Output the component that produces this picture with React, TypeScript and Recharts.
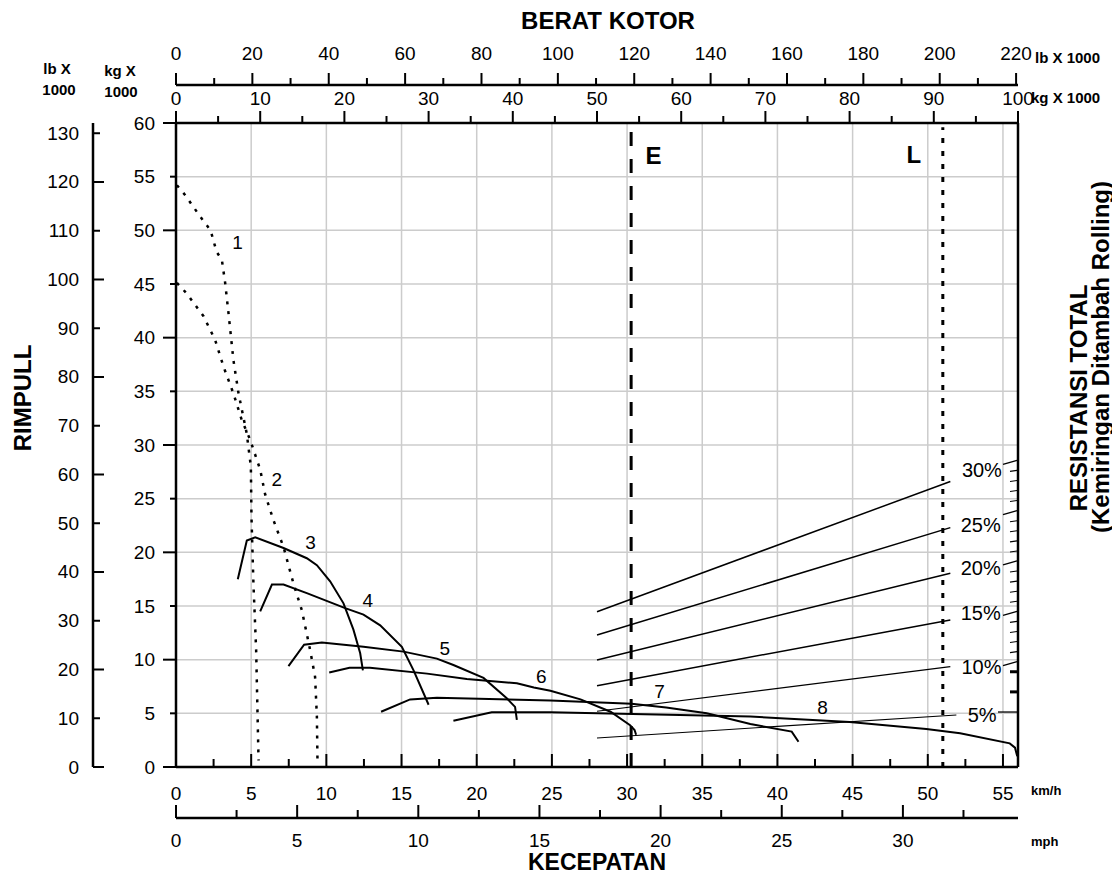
import React from 'react';
import { ComposedChart, Line, Scatter, XAxis, YAxis, CartesianGrid, ReferenceLine } from 'recharts';

const FONT = "'Liberation Sans', Arial, Helvetica, sans-serif";

// rimpull curves: [kecepatan km/h, rimpull kg x 1000]
const gear1 = [[0.06, 54.2], [0.6, 53.3], [1.6, 51.3], [2.3, 50.0], [2.7, 48.0], [3.05, 47.25], [3.27, 45.1], [3.49, 42.3], [3.82, 37.9], [4.16, 34.8], [4.7, 31.1], [4.98, 28.0], [5.02, 23.3], [5.15, 17.1], [5.33, 10.9], [5.49, 0.6]];
const gear2 = [[0.06, 45.1], [0.72, 44.1], [1.83, 42.0], [2.6, 39.8], [3.16, 37.3], [3.82, 34.8], [4.38, 32.3], [4.93, 30.5], [5.6, 27.7], [5.93, 25.4], [6.48, 23.0], [7.15, 20.5], [7.81, 17.1], [8.37, 14.6], [8.92, 10.9], [9.25, 8.4], [9.37, 4.7], [9.41, 0.6]];
const gear3 = [[4.11, 17.5], [4.71, 21.1], [5.27, 21.4], [7.15, 20.4], [8.7, 19.45], [9.37, 18.8], [10.25, 17.3], [11.14, 15.25], [11.8, 12.8], [12.25, 10.6], [12.43, 9.0]];
const gear4 = [[5.6, 14.5], [6.38, 17.0], [7.15, 17.0], [8.7, 16.2], [11.25, 14.8], [12.47, 14.2], [13.58, 13.2], [15.02, 11.2], [15.8, 9.0], [16.8, 5.8]];
const gear5 = [[7.48, 9.4], [8.52, 11.4], [9.7, 11.6], [12.47, 11.2], [15.13, 10.75], [17.35, 10.1], [18.45, 9.5], [20.45, 8.3], [22.0, 6.4], [22.55, 5.6], [22.67, 4.4]];
const gear6 = [[10.19, 8.8], [11.54, 9.25], [12.9, 9.25], [16.7, 8.7], [19.34, 8.2], [22.67, 7.8], [23.8, 7.4], [24.9, 7.1], [26.9, 6.3], [28.9, 5.15], [30.2, 3.9], [30.5, 3.45], [30.6, 3.0]];
const gear7 = [[13.64, 5.15], [15.57, 6.3], [17.35, 6.45], [24.9, 6.2], [30.3, 5.9], [32.6, 5.55], [35.3, 5.0], [38.2, 4.0], [40.95, 3.3], [41.4, 2.35]];
const gear8 = [[18.45, 4.3], [21.0, 5.1], [24.9, 5.1], [38.2, 4.7], [44.8, 4.2], [49.9, 3.55], [52.15, 3.14], [55.45, 2.2], [55.8, 1.8], [55.95, 1.0]];

// resistansi total lines
const res30 = [[28.0, 14.47], [51.5, 26.6]];
const res25 = [[28.0, 12.3], [51.5, 22.3]];
const res20 = [[28.0, 9.97], [51.5, 18.05]];
const res15 = [[28.0, 7.58], [51.5, 13.7]];
const res10 = [[28.0, 5.2], [51.5, 9.35]];
const res5 = [[28.0, 2.7], [51.9, 4.85]];

const curveLabels = [
  { x: 4.1, y: 48.9, t: '1' }, { x: 6.71, y: 26.8, t: '2' }, { x: 8.95, y: 20.9, t: '3' },
  { x: 12.75, y: 15.5, t: '4' }, { x: 17.87, y: 11.06, t: '5' }, { x: 24.3, y: 8.39, t: '6' },
  { x: 32.16, y: 7.04, t: '7' }, { x: 43.0, y: 5.59, t: '8' },
];
const pctLabels = [
  { x: 54.93, y: 27.67, t: '30%' }, { x: 54.85, y: 22.55, t: '25%' }, { x: 54.85, y: 18.51, t: '20%' },
  { x: 54.85, y: 14.32, t: '15%' }, { x: 54.9, y: 9.35, t: '10%' }, { x: 54.58, y: 4.85, t: '5%' },
];
const loadLabels = [{ x: 31.76, y: 56.93, t: 'E' }, { x: 49.08, y: 57.1, t: 'L' }];
const eKmh = 30.27;
const lKmh = 51.0;

const kmhTicks = [0, 2.5, 5, 7.5, 10, 12.5, 15, 17.5, 20, 22.5, 25, 27.5, 30, 32.5, 35, 37.5, 40, 42.5, 45, 47.5, 50, 52.5, 55];
const mphTicks = [0, 2.5, 5, 7.5, 10, 12.5, 15, 17.5, 20, 22.5, 25, 27.5, 30, 32.5];
const kgTopTicks = [0, 5, 10, 15, 20, 25, 30, 35, 40, 45, 50, 55, 60, 65, 70, 75, 80, 85, 90, 95, 100];
const lbTopTicks = [0, 10, 20, 30, 40, 50, 60, 70, 80, 90, 100, 110, 120, 130, 140, 150, 160, 170, 180, 190, 200, 210, 220];
const kgTicks = [0, 5, 10, 15, 20, 25, 30, 35, 40, 45, 50, 55, 60];
const lbTicks = [0, 10, 20, 30, 40, 50, 60, 70, 80, 90, 100, 110, 120, 130];
const resTicks = [5, 7, 9, 10, 11, 12, 13, 14, 15, 16, 17, 18, 19, 20, 21, 22, 23, 24, 25, 26, 27, 28, 29, 30];
const gridKmh = [5, 10, 15, 20, 25, 30, 35, 40, 45, 50, 55];
const gridKg = [5, 10, 15, 20, 25, 30, 35, 40, 45, 50, 55];

const pts = (a: number[][]) => a.map(([x, y]) => ({ x, y }));
// anchor points so the secondary x scales get a domain
const anchors = (t: number[]) => t.map((x) => ({ x, y: 0 }));

const lbl = { fontSize: 19, fontFamily: FONT, fill: '#000' };

function BottomTick(p: any) {
  const { x, y, payload, step } = p;
  const v = payload.value;
  const major = v % step === 0;
  return (
    <g>
      <line x1={x} y1={y} x2={x} y2={y - (major ? 13 : 8)} stroke="#000" strokeWidth={2} />
      {major && <text x={x} y={y + p.off} textAnchor="middle" dominantBaseline="central" {...lbl}>{v}</text>}
    </g>
  );
}

function TopTick(p: any) {
  const { x, y, payload, step } = p;
  const v = payload.value;
  const major = v % step === 0;
  return (
    <g>
      <line x1={x} y1={y} x2={x} y2={y - (major ? 12 : 7)} stroke="#000" strokeWidth={2} />
      {major && <text x={x} y={y - p.off} textAnchor="middle" dominantBaseline="central" {...lbl}>{v}</text>}
    </g>
  );
}

function KgTick(p: any) {
  const { x, y, payload } = p;
  const v = payload.value;
  const major = v % 10 === 0;
  return (
    <g>
      <line x1={x} y1={y} x2={x - (major ? 13 : 6)} y2={y} stroke="#000" strokeWidth={2} />
      <text x={x - 21} y={y} textAnchor="end" dominantBaseline="central" {...lbl}>{v}</text>
    </g>
  );
}

function LbTick(p: any) {
  const { x, y, payload } = p;
  const v = payload.value;
  const major = v % 20 === 0;
  return (
    <g>
      <line x1={x} y1={y} x2={x + (major ? 11 : 7)} y2={y} stroke="#000" strokeWidth={2} />
      <text x={x - 14} y={y} textAnchor="end" dominantBaseline="central" {...lbl}>{v}</text>
    </g>
  );
}

function ResTick(p: any) {
  const { x, y, payload } = p;
  const v = payload.value;
  if (v === 5) return <line x1={x - 20} y1={y} x2={x} y2={y} stroke="#000" strokeWidth={1.3} />;
  if (v % 5 === 0) return <line x1={x - 15} y1={y + 4} x2={x - 1} y2={y} stroke="#000" strokeWidth={1.3} />;
  if (v < 10) return <line x1={x - 8} y1={y} x2={x - 1} y2={y} stroke="#000" strokeWidth={3} />;
  return <line x1={x - 8} y1={y + 1} x2={x - 1} y2={y} stroke="#000" strokeWidth={1.1} />;
}

const textShape = (size: number, bold: boolean, anchor: string) => (p: any) => (
  <text x={p.cx} y={p.cy} textAnchor={anchor} dominantBaseline="central" fontSize={size}
    fontWeight={bold ? 'bold' : 'normal'} fontFamily={FONT} fill="#000">{p.payload.t}</text>
);
const noShape = () => <g />;

const ax = { xAxisId: 'kmh', yAxisId: 'kg' };

export default function App() {
  const gears = [gear1, gear2, gear3, gear4, gear5, gear6, gear7, gear8];
  const resLines = [res30, res25, res20, res15, res10, res5];
  const bold = { fontFamily: FONT, fontWeight: 'bold' as const, fill: '#000' };
  return (
    <div style={{ position: 'absolute', left: 0, top: 0, width: 1112, height: 881, background: '#fff' }}>
      <ComposedChart width={1112} height={881} margin={{ top: 35, right: 34, bottom: 23, left: 33 }}>
        <CartesianGrid {...ax} verticalValues={gridKmh} horizontalValues={gridKg} stroke="#cccccc" strokeWidth={1.5} />
        <XAxis xAxisId="kmh" dataKey="x" type="number" domain={[0, 56]} allowDataOverflow ticks={kmhTicks}
          interval={0} height={51} tickSize={0} tickMargin={0} tickLine={false}
          axisLine={{ stroke: '#000', strokeWidth: 2.5 }} tick={(p: any) => <BottomTick {...p} step={5} off={26} />} />
        <XAxis xAxisId="mph" dataKey="x" type="number" domain={[0, 34.75]} allowDataOverflow ticks={mphTicks}
          interval={0} height={40} tickSize={0} tickMargin={0} tickLine={false}
          axisLine={{ stroke: '#000', strokeWidth: 2.5 }} tick={(p: any) => <BottomTick {...p} step={5} off={22} />} />
        <XAxis xAxisId="kgTop" dataKey="x" orientation="top" type="number" domain={[0, 100]} allowDataOverflow ticks={kgTopTicks}
          interval={0} height={38} tickSize={0} tickMargin={0} tickLine={false}
          axisLine={{ stroke: '#000', strokeWidth: 2.5 }} tick={(p: any) => <TopTick {...p} step={10} off={25} />} />
        <XAxis xAxisId="lbTop" dataKey="x" orientation="top" type="number" domain={[0, 220.5]} allowDataOverflow ticks={lbTopTicks}
          interval={0} height={50} tickSize={0} tickMargin={0} tickLine={false}
          axisLine={{ stroke: '#000', strokeWidth: 2.5 }} tick={(p: any) => <TopTick {...p} step={20} off={32} />} />
        <YAxis yAxisId="kg" dataKey="y" type="number" domain={[0, 60]} allowDataOverflow ticks={kgTicks}
          interval={0} width={83} tickSize={0} tickMargin={0} tickLine={false}
          axisLine={{ stroke: '#000', strokeWidth: 2.5 }} tick={(p: any) => <KgTick {...p} />} />
        <YAxis yAxisId="lb" type="number" domain={[0, 132.1]} allowDataOverflow ticks={lbTicks}
          interval={0} width={60} tickSize={0} tickMargin={0} tickLine={false}
          axisLine={{ stroke: '#000', strokeWidth: 2.5 }} tick={(p: any) => <LbTick {...p} />} />
        <YAxis yAxisId="res" orientation="right" type="number" domain={[-0.46, 63.5]} allowDataOverflow ticks={resTicks}
          interval={0} width={60} tickSize={0} tickMargin={0} tickLine={false}
          axisLine={{ stroke: '#000', strokeWidth: 2.5 }} tick={(p: any) => <ResTick {...p} />} />

        <Scatter xAxisId="mph" yAxisId="kg" data={anchors(mphTicks)} dataKey="y" shape={noShape} isAnimationActive={false} />
        <Scatter xAxisId="kgTop" yAxisId="kg" data={anchors(kgTopTicks)} dataKey="y" shape={noShape} isAnimationActive={false} />
        <Scatter xAxisId="lbTop" yAxisId="kg" data={anchors(lbTopTicks)} dataKey="y" shape={noShape} isAnimationActive={false} />

        <ReferenceLine {...ax} segment={[{ x: eKmh, y: 0 }, { x: eKmh, y: 59.3 }]} stroke="#000" strokeWidth={3} strokeDasharray="14 13" />
        <ReferenceLine {...ax} segment={[{ x: lKmh, y: 0 }, { x: lKmh, y: 59.6 }]} stroke="#000" strokeWidth={3} strokeDasharray="5 8" />

        {resLines.map((r, i) => (
          <Line key={'r' + i} {...ax} data={pts(r)} dataKey="y" stroke="#000" strokeWidth={i >= 4 ? 1.1 : 1.5}
            dot={false} activeDot={false} isAnimationActive={false} />
        ))}
        {gears.map((g, i) => (
          <Line key={'g' + i} {...ax} data={pts(g)} dataKey="y" stroke="#000" strokeWidth={i < 2 ? 2.5 : 2}
            strokeDasharray={i < 2 ? '3 7' : undefined} dot={false} activeDot={false} isAnimationActive={false} />
        ))}
        <Scatter {...ax} data={curveLabels} dataKey="y" shape={textShape(19, false, 'middle')} isAnimationActive={false} />
        <Scatter {...ax} data={pctLabels} dataKey="y" shape={textShape(20, false, 'end')} isAnimationActive={false} />
        <Scatter {...ax} data={loadLabels} dataKey="y" shape={textShape(24, true, 'middle')} isAnimationActive={false} />
      </ComposedChart>
      <svg width={1112} height={881} style={{ position: 'absolute', left: 0, top: 0, pointerEvents: 'none' }}>
        <text x={608} y={20} textAnchor="middle" dominantBaseline="central" fontSize={24} {...bold}>BERAT KOTOR</text>
        <text x={597} y={862} textAnchor="middle" dominantBaseline="central" fontSize={23} {...bold}>KECEPATAN</text>
        <text transform="translate(22,398) rotate(-90)" textAnchor="middle" dominantBaseline="central" fontSize={24} {...bold}>RIMPULL</text>
        <text transform="translate(1078,398) rotate(-90)" textAnchor="middle" dominantBaseline="central" fontSize={24} {...bold}>RESISTANSI TOTAL</text>
        <text transform="translate(1100,357) rotate(-90)" textAnchor="middle" dominantBaseline="central" fontSize={24} {...bold}>(Kemiringan Ditambah Rolling)</text>
        <text x={57} y={68} textAnchor="middle" dominantBaseline="central" fontSize={15} {...bold}>lb X</text>
        <text x={59} y={89} textAnchor="middle" dominantBaseline="central" fontSize={15} {...bold}>1000</text>
        <text x={120} y={70} textAnchor="middle" dominantBaseline="central" fontSize={15} {...bold}>kg X</text>
        <text x={121} y={91} textAnchor="middle" dominantBaseline="central" fontSize={15} {...bold}>1000</text>
        <text x={1035} y={57} dominantBaseline="central" fontSize={15} {...bold}>lb X 1000</text>
        <text x={1031} y={97} dominantBaseline="central" fontSize={15} {...bold}>kg X 1000</text>
        <text x={1031} y={790} dominantBaseline="central" fontSize={13} {...bold}>km/h</text>
        <text x={1031} y={841} dominantBaseline="central" fontSize={13} {...bold}>mph</text>
      </svg>
    </div>
  );
}
